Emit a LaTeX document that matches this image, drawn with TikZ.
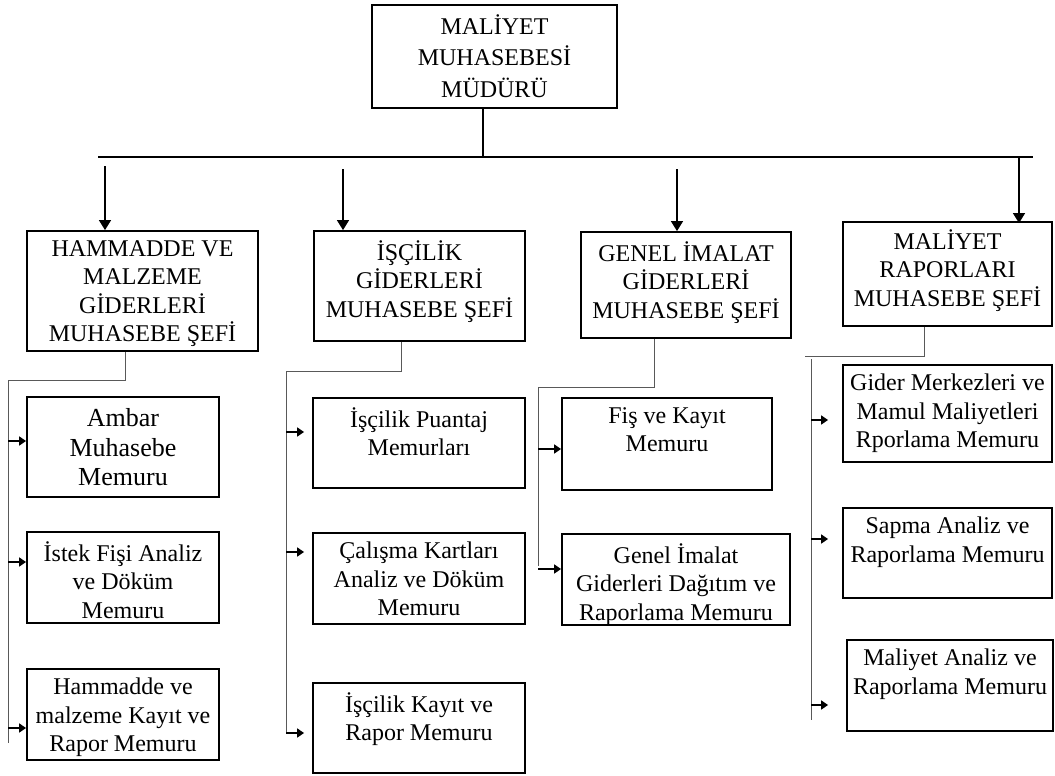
\documentclass[tikz,border=0pt]{standalone}
\usepackage{fontspec}
\setmainfont{Liberation Serif}
\usetikzlibrary{arrows.meta}
\newcommand\boxfont{\fontsize{24}{28.5}\selectfont}
\newcommand\topfont{\fontsize{24}{31.5}\selectfont}
\newcommand\bigfont{\fontsize{26}{29.5}\selectfont}

\begin{document}
\begin{tikzpicture}
	[	x=1pt, y=-1pt,
		box/.style={rectangle,draw=black,line width=1.8pt,inner sep=0pt},
		txt/.style={anchor=north,align=center,inner sep=0pt,font=\boxfont,execute at begin node=\strut},
		vec/.style={-{Triangle[length=10pt,width=12pt]},line width=1.4pt},
		subvec/.style={-{Triangle[length=7pt,width=9pt]},line width=1.6pt},
		busline/.style={line width=2.6pt},
		link/.style={line width=0.8pt,draw=black!65}	]
	\useasboundingbox (0,0) rectangle (1055,776);
	% manager
	\node[box,minimum width=245pt,minimum height=103pt] (mudur) at (494.5,56.5) {};
	\node[txt,font=\topfont] (mudur-t) at ([yshift=-10pt]mudur.north) {MAL\.IYET\\MUHASEBES\.I\\MÜDÜRÜ};
	\coordinate (barL) at (98,157);
	\coordinate (barR) at (1033,157);
	\coordinate (mudur-out) at ([xshift=-11.5pt]mudur.south);
	\draw[line width=1.4pt] (mudur-out) -- (mudur-out |- barL);
	\draw[busline] (barL) -- (barR);
	% chiefs
	\node[box,minimum width=231pt,minimum height=120pt] (hamsef) at (142.5,291) {};
	\node[txt] (hamsef-t) at ([yshift=-10pt]hamsef.north) {HAMMADDE VE\\MALZEME\\G\.IDERLER\.I\\MUHASEBE ŞEF\.I};
	\node[box,minimum width=211pt,minimum height=110pt] (iscsef) at (419.5,286) {};
	\node[txt] (iscsef-t) at ([yshift=-10pt]iscsef.north) {\.IŞÇ\.IL\.IK\\G\.IDERLER\.I\\MUHASEBE ŞEF\.I};
	\node[box,minimum width=210pt,minimum height=106pt] (gensef) at (686,285) {};
	\node[txt] (gensef-t) at ([yshift=-10pt]gensef.north) {GENEL \.IMALAT\\G\.IDERLER\.I\\MUHASEBE ŞEF\.I};
	\node[box,minimum width=209pt,minimum height=104pt] (rapsef) at (947.5,274) {};
	\node[txt] (rapsef-t) at ([yshift=-8pt]rapsef.north) {MAL\.IYET\\RAPORLARI\\MUHASEBE ŞEF\.I};
	\coordinate (hamsef-in) at ([xshift=-37.5pt]hamsef.north);
	\coordinate (iscsef-in) at ([xshift=-76.5pt]iscsef.north);
	\coordinate (gensef-in) at ([xshift=-9pt]gensef.north);
	\coordinate (rapsef-in) at ([xshift=71.5pt,yshift=-2pt]rapsef.north);
	\draw[vec] ([yshift=64pt]hamsef-in) -- (hamsef-in);
	\draw[vec] ([yshift=61pt]iscsef-in) -- (iscsef-in);
	\draw[vec] ([yshift=62pt]gensef-in) -- (gensef-in);
	\draw[vec] ([yshift=67pt]rapsef-in) -- (rapsef-in);
	% first column
	\node[box,minimum width=192pt,minimum height=100pt] (ambar) at (123,447) {};
	\node[txt,font=\bigfont] (ambar-t) at ([yshift=-12.5pt]ambar.north) {Ambar\\Muhasebe\\Memuru};
	\node[box,minimum width=192pt,minimum height=91pt] (istek) at (123,577.5) {};
	\node[txt] (istek-t) at ([yshift=-10pt]istek.north) {\.Istek Fişi Analiz\\ve Döküm\\Memuru};
	\node[box,minimum width=192pt,minimum height=91pt] (hamve) at (123,714.5) {};
	\node[txt] (hamve-t) at ([yshift=-10pt]hamve.north) {Hammadde ve\\malzeme Kayıt ve\\Rapor Memuru};
	\coordinate (ham-elb) at (8,380);
	\coordinate (ham-end) at (8,743);
	\draw[link] ([xshift=-17.5pt]hamsef.south) |- (ham-elb) -- (ham-end);
	\coordinate (ambar-in) at ([yshift=6pt]ambar.west);
	\coordinate (istek-in) at ([yshift=15.5pt]istek.west);
	\coordinate (hamve-in) at ([yshift=-13.5pt]hamve.west);
	\draw[subvec] (ham-elb |- ambar-in) -- (ambar-in);
	\draw[subvec] (ham-elb |- istek-in) -- (istek-in);
	\draw[subvec] (ham-elb |- hamve-in) -- (hamve-in);
	% second column
	\node[box,minimum width=212pt,minimum height=90pt] (puantaj) at (419,443) {};
	\node[txt] (puantaj-t) at ([yshift=-10pt]puantaj.north) {\.Işçilik Puantaj\\Memurları};
	\node[box,minimum width=212pt,minimum height=91pt] (calisma) at (419,578.5) {};
	\node[txt] (calisma-t) at ([yshift=-10pt]calisma.north) {Çalışma Kartları\\Analiz ve Döküm\\Memuru};
	\node[box,minimum width=212pt,minimum height=90pt] (kayit) at (419,728) {};
	\node[txt] (kayit-t) at ([yshift=-10pt]kayit.north) {\.Işçilik Kayıt ve\\Rapor Memuru};
	\coordinate (isc-elb) at (286,371);
	\coordinate (isc-end) at (286,734);
	\draw[link] ([xshift=-18.5pt]iscsef.south) |- (isc-elb) -- (isc-end);
	\coordinate (puantaj-in) at ([xshift=-8pt,yshift=11pt]puantaj.west);
	\coordinate (calisma-in) at ([xshift=-8pt,yshift=26.5pt]calisma.west);
	\coordinate (kayit-in) at ([xshift=-8pt,yshift=-5pt]kayit.west);
	\draw[subvec] (isc-elb |- puantaj-in) -- (puantaj-in);
	\draw[subvec] (isc-elb |- calisma-in) -- (calisma-in);
	\draw[subvec] (isc-elb |- kayit-in) -- (kayit-in);
	% third column
	\node[box,minimum width=210pt,minimum height=92pt] (fis) at (667,444) {};
	\node[txt] (fis-t) at ([yshift=-10pt]fis.north) {Fiş ve Kayıt\\Memuru};
	\node[box,minimum width=228pt,minimum height=91pt] (genim) at (676,579.5) {};
	\node[txt] (genim-t) at ([yshift=-10pt]genim.north) {Genel \.Imalat\\Giderleri Dağıtım ve\\Raporlama Memuru};
	\coordinate (gen-elb) at (538,387);
	\coordinate (gen-end) at (538,566);
	\draw[link] ([xshift=-32pt]gensef.south) |- (gen-elb) -- (gen-end);
	\coordinate (fis-in) at ([yshift=-5pt]fis.west);
	\coordinate (genim-in) at ([yshift=10.5pt]genim.west);
	\draw[subvec] (gen-elb |- fis-in) -- (fis-in);
	\draw[subvec] (gen-elb |- genim-in) -- (genim-in);
	% fourth column
	\node[box,minimum width=209pt,minimum height=97pt] (gider) at (947.5,413.5) {};
	\node[txt] (gider-t) at ([yshift=-10pt]gider.north) {Gider Merkezleri ve\\Mamul Maliyetleri\\Rporlama Memuru};
	\node[box,minimum width=209pt,minimum height=90pt] (sapma) at (947.5,553) {};
	\node[txt] (sapma-t) at ([yshift=-10pt]sapma.north) {Sapma Analiz ve\\Raporlama Memuru};
	\node[box,minimum width=206pt,minimum height=91pt] (malan) at (950,685.5) {};
	\node[txt] (malan-t) at ([yshift=-10pt]malan.north) {Maliyet Analiz ve\\Raporlama Memuru};
	\coordinate (rap-elb) at (805,356);
	\coordinate (rap-bus) at (811,359);
	\coordinate (rap-end) at (811,720);
	\draw[link] ([xshift=-23.5pt]rapsef.south) |- (rap-elb);
	\draw[link] (rap-bus) -- (rap-end);
	\coordinate (gider-in) at ([xshift=-14pt,yshift=-6.5pt]gider.west);
	\coordinate (sapma-in) at ([xshift=-14pt,yshift=14pt]sapma.west);
	\coordinate (malan-in) at ([xshift=-18pt,yshift=-19.5pt]malan.west);
	\draw[subvec] (rap-bus |- gider-in) -- (gider-in);
	\draw[subvec] (rap-bus |- sapma-in) -- (sapma-in);
	\draw[subvec] (rap-bus |- malan-in) -- (malan-in);
\end{tikzpicture}
\end{document}
